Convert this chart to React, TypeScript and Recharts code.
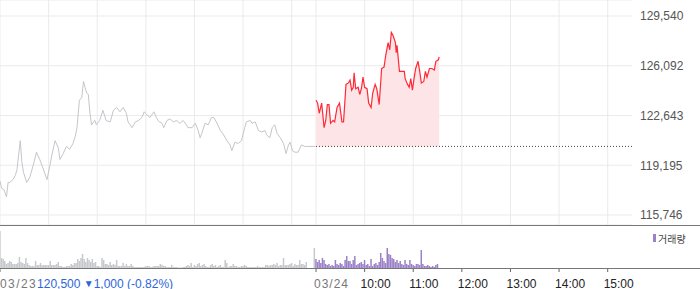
import React from 'react';
import {
  ComposedChart, BarChart, Line, Area, Bar, Cell, XAxis, YAxis,
  CartesianGrid, ReferenceLine,
} from 'recharts';

// minutes counted from 09:00 on 03/23, 03/24 starts at 390
const day1Minutes = [
  0, 2, 5, 8, 10, 12, 16, 19, 21, 23, 25, 27, 29, 33, 37, 41, 45, 49, 53, 58,
  62, 64, 68, 72, 74, 78, 82, 86, 90, 93, 95, 98, 101, 103, 105, 107, 109, 111, 113, 117,
  119, 123, 127, 131, 136, 140, 144, 148, 152, 156, 158, 163, 167, 171, 175, 178, 181, 185, 190, 193,
  195, 197, 200, 202, 206, 210, 214, 218, 222, 226, 230, 232, 237, 241, 244, 247, 249, 253, 257, 261,
  264, 267, 272, 276, 280, 284, 286, 290, 294, 298, 302, 304, 309, 311, 315, 319, 323, 327, 329, 333,
  336, 339, 342, 346, 350, 353, 356, 358, 361, 364, 368, 372, 376, 380, 389,
];
const day1Prices = [
  118100, 117600, 117500, 117000, 118000, 118000, 118200, 118500, 118900, 119900, 120900, 119400, 118700, 118000, 118400, 119200, 120100, 119600, 119000, 118200,
  119300, 119900, 120900, 120400, 119600, 120000, 120500, 120300, 120700, 121200, 121800, 123700, 123900, 125000, 124600, 124200, 124100, 122800, 122000, 122300,
  122000, 122300, 123000, 122300, 122200, 123000, 123200, 122900, 123200, 122800, 122200, 121800, 122200, 122300, 122500, 122900, 122700, 122500, 122900, 122500,
  122300, 122200, 122100, 121800, 122300, 122400, 122200, 122300, 122100, 122300, 122000, 121800, 121800, 122100, 121700, 121100, 121400, 122100, 122000, 122500,
  122500, 122200, 121600, 121300, 120900, 120600, 120200, 120800, 120700, 120900, 121800, 122200, 122300, 122100, 122200, 121600, 121500, 121600, 121300, 121100,
  121800, 122000, 121400, 121100, 120700, 120000, 120600, 120800, 120200, 120100, 120100, 120600, 120500, 120500, 120500,
];

const day2Minutes = [
  390, 392, 394, 397, 400, 402, 404, 406, 408, 411, 413, 416, 419, 422, 424, 427, 430, 432, 434, 436,
  437, 439, 442, 444, 446, 448, 450, 453, 455, 458, 460, 463, 465, 468, 471, 474, 476, 479, 481, 483,
  485, 488, 489, 490, 493, 496, 499, 500, 503, 505, 507, 509, 511, 513, 516, 518, 520, 523, 525, 527,
  530, 533, 536, 538, 541, 542,
];
const day2Prices = [
  123700, 123500, 122800, 123500, 121800, 122300, 123400, 123400, 122100, 122300, 122200, 123200, 123500, 122200, 122200, 124800, 124900, 125100, 124400, 124600,
  125600, 124500, 124600, 124100, 124500, 125300, 124600, 124500, 123500, 123200, 124200, 124800, 124500, 123400, 125900, 126000, 126800, 127700, 127200, 128400,
  128200, 127700, 127000, 127500, 125700, 125700, 125700, 125200, 124800, 124600, 125200, 124400, 125200, 125900, 126400, 125700, 124900, 125000, 125700, 125300,
  125900, 125900, 125800, 126400, 126500, 126700,
];

// 2-minute volume bins, day 1 from 09:00 (minute 0), day 2 from minute 390
const day1Volume = [
  37, 10, 9, 7, 4, 5, 7, 6, 4, 4, 4, 5, 11, 6, 5, 4, 10, 5, 3, 2,
  2, 2, 7, 3, 3, 5, 3, 3, 3, 3, 3, 7, 3, 3, 3, 4, 6, 2, 2, 1,
  1, 2, 2, 2, 4, 3, 5, 5, 9, 7, 10, 14, 9, 6, 10, 8, 6, 9, 5, 6,
  2, 2, 1, 10, 8, 4, 4, 3, 6, 3, 4, 3, 8, 2, 2, 2, 5, 2, 4, 2,
  2, 4, 2, 1, 1, 1, 1, 1, 1, 1, 2, 2, 2, 1, 1, 2, 2, 2, 2, 4,
  3, 2, 2, 1, 1, 1, 3, 1, 1, 1, 0.5, 0.5, 0.5, 1, 1, 2, 3, 2, 5, 1,
  3, 2, 4, 5, 2, 3, 4, 2, 1, 1, 3, 4, 2, 3, 1, 2, 3, 1, 1, 8,
  5, 1, 2, 2, 4, 2, 2, 1, 1, 2, 2, 3, 2, 1, 1, 1, 1, 1, 1, 2,
  1, 1, 1, 1, 3, 3, 2, 3, 3, 4, 3, 5, 2, 3, 3, 10, 3, 3, 3, 4,
  5, 2, 4, 3, 3, 8, 4, 4, 3, 6, 0, 0, 0, 0, 20,
];
const day2Volume = [
  9, 6, 8, 5, 10, 8, 4, 3, 4, 2, 3, 2, 8, 4, 3, 5, 4, 2, 8, 12,
  7, 7, 4, 8, 12, 3, 4, 5, 6, 4, 8, 3, 4, 2, 9, 2, 4, 5, 3, 6,
  15, 10, 7, 5, 20, 14, 13, 10, 9, 6, 8, 5, 7, 4, 3, 8, 4, 3, 8, 4,
  3, 2, 4, 4, 3, 18, 4, 2, 2, 3, 2, 1, 2, 1, 3, 4,
];

const priceTicks = [115746, 119195, 122643, 126092, 129540];
const priceDomain = [115053, 130649];
const prevClose = 120500;
const changeText = '1,000 (-0.82%)';

const minuteDomain = [0, 780];
const gridMinutes = [0, 60, 120, 180, 240, 300, 360, 390, 450, 510, 570, 630, 690, 750];
const axisMinutes = [0, 390, 450, 510, 570, 630, 690, 750];
const axisLabels = ['03/23', '03/24', '10:00', '11:00', '12:00', '13:00', '14:00', '15:00'];

const FONT = '"Liberation Sans", Arial, "Noto Sans CJK KR", sans-serif';
const RED = '#ff2a36';
const BLUE = '#2b66d9';
const PURPLE = '#9b82c8';
const GRAY_VOL = '#c6c8cc';

const priceRows = [
  ...day1Minutes.map((t, i) => ({ t, d1: day1Prices[i] })),
  ...day2Minutes.map((t, i) => ({ t, d2: day2Prices[i] })),
];

const volRows = [
  ...day1Volume.map((v, i) => ({ t: i * 2, v, day: 1 })),
  ...day2Volume.map((v, i) => ({ t: 390 + i * 2, v, day: 2 })),
];

// vertical grid only at the hour marks (the x axis is linear over minuteDomain)
const vGrid = ({ offset }: any) =>
  gridMinutes.map((m) => offset.left + ((m - minuteDomain[0]) / (minuteDomain[1] - minuteDomain[0])) * offset.width);

const TimeTick = ({ x, y, payload }: any) => {
  const idx = axisMinutes.indexOf(payload.value);
  const label = axisLabels[idx];
  const baseY = y + 13.5;
  if (idx === 0) {
    return (
      <text x={x} y={baseY} fontSize={12}>
        <tspan fill="#777" letterSpacing={1.4}>{label}</tspan>
        <tspan fill={BLUE}>{prevClose.toLocaleString('en-US')} </tspan>
        <tspan fill={BLUE} fontSize={10} dy={-0.5}>▼</tspan>
        <tspan fill={BLUE} dy={0.5}>{changeText}</tspan>
      </text>
    );
  }
  const isDate = label.includes('/');
  return (
    <text
      x={x - (isDate ? 2 : 4)}
      y={baseY}
      fontSize={12}
      fill={isDate ? '#777' : '#222'}
      letterSpacing={isDate ? 1 : 0}
    >
      {label}
    </text>
  );
};

const App: React.FC = () => {
  return (
    <div style={{ position: 'relative', width: 700, height: 289, background: '#fff', fontFamily: FONT }}>
      <style>{'body{margin:0}'}</style>

      <div style={{ position: 'absolute', left: 0, top: 0 }}>
        <ComposedChart width={700} height={225} data={priceRows} margin={{ top: 0, right: 0, bottom: 0, left: 0 }}>
          <CartesianGrid stroke="#ebebeb" verticalCoordinatesGenerator={vGrid} />
          <XAxis
            dataKey="t"
            type="number"
            domain={minuteDomain}
            ticks={gridMinutes}
            height={0}
            tick={false}
            tickLine={false}
            axisLine={false}
          />
          <YAxis
            orientation="right"
            width={68}
            domain={priceDomain}
            ticks={priceTicks}
            allowDataOverflow
            axisLine={false}
            tickLine={false}
            tick={{ fill: '#555', fontSize: 12 }}
            tickFormatter={(v: number) => v.toLocaleString('en-US')}
          />
          <Area
            type="linear"
            dataKey="d2"
            stroke={RED}
            strokeWidth={1.2}
            fill="#fde4e7"
            fillOpacity={1}
            baseValue={prevClose}
            dot={false}
            activeDot={false}
            isAnimationActive={false}
          />
          <Line
            type="linear"
            dataKey="d1"
            stroke="#c4c6cb"
            strokeWidth={1}
            dot={false}
            activeDot={false}
            isAnimationActive={false}
          />
          <ReferenceLine
            segment={[{ x: 390, y: prevClose }, { x: 780, y: prevClose }]}
            stroke="#444"
            strokeDasharray="1 2"
          />
        </ComposedChart>
      </div>

      <div style={{ position: 'absolute', left: 0, top: 225, width: 700, height: 1, background: '#777' }} />

      <div style={{ position: 'absolute', left: 0, top: 226 }}>
        <BarChart width={700} height={63} data={volRows} margin={{ top: 2, right: 68, bottom: 0, left: 0 }}>
          <XAxis
            dataKey="t"
            type="number"
            domain={minuteDomain}
            ticks={axisMinutes}
            interval={0}
            height={21}
            tickSize={4}
            tickLine={{ stroke: '#666' }}
            axisLine={false}
            tick={<TimeTick />}
          />
          <YAxis hide domain={[0, 40]} allowDataOverflow />
          <Bar dataKey="v" barSize={1.5} isAnimationActive={false}>
            {volRows.map((r, i) => (
              <Cell key={i} fill={r.day === 1 ? GRAY_VOL : PURPLE} />
            ))}
          </Bar>
        </BarChart>
      </div>

      <div style={{ position: 'absolute', left: 0, top: 268, width: 700, height: 1, background: '#777' }} />

      <div
        style={{
          position: 'absolute', left: 653, top: 231, height: 14,
          display: 'flex', alignItems: 'center', fontSize: 10, color: '#444',
        }}
      >
        <span style={{ display: 'inline-block', width: 3, height: 8, background: PURPLE, marginRight: 2 }} />
        <span>거래량</span>
      </div>
    </div>
  );
};

export default App;
